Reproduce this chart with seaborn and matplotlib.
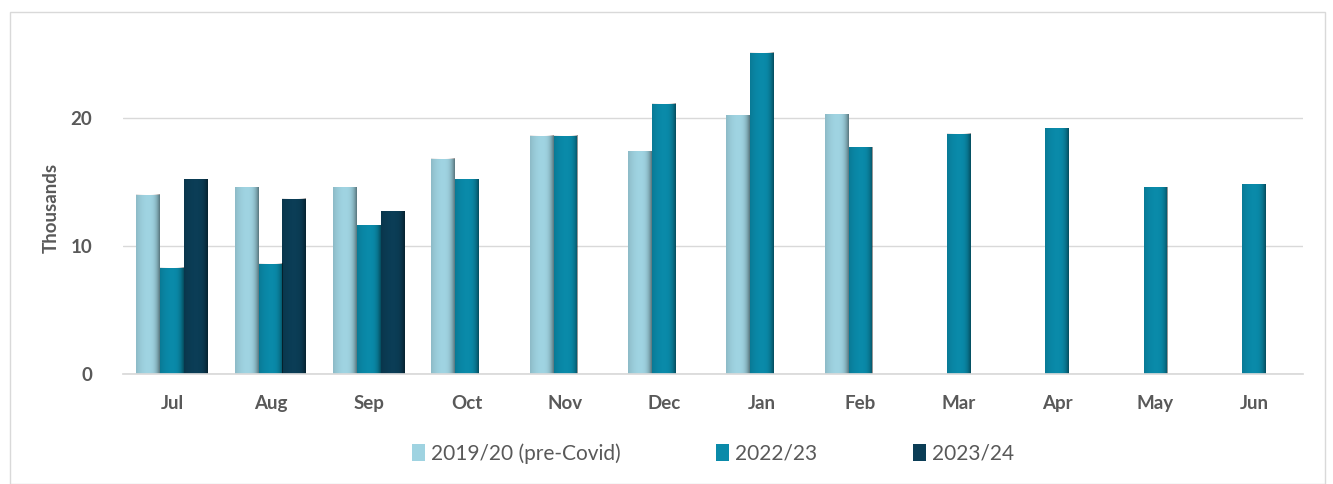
import numpy as np
import pandas as pd
import matplotlib
matplotlib.use("Agg")
import matplotlib.pyplot as plt
import seaborn as sns
from matplotlib.patches import Rectangle

months = ["Jul", "Aug", "Sep", "Oct", "Nov", "Dec", "Jan", "Feb", "Mar", "Apr", "May", "Jun"]
series_names = ["2019/20 (pre-Covid)", "2022/23", "2023/24"]
pre_covid = [14.0, 14.6, 14.6, 16.8, 18.6, 17.4, 20.2, 20.3, np.nan, np.nan, np.nan, np.nan]
y2022_23 = [8.3, 8.6, 11.6, 15.2, 18.6, 21.1, 25.1, 17.7, 18.75, 19.2, 14.6, 14.8]
y2023_24 = [15.2, 13.7, 12.7, np.nan, np.nan, np.nan, np.nan, np.nan, np.nan, np.nan, np.nan, np.nan]
yticks = [0, 10, 20]
colors = ["#9fd3e1", "#0a8aa9", "#0b3d56"]

rows = []
for name, vals in zip(series_names, [pre_covid, y2022_23, y2023_24]):
    for m, v in zip(months, vals):
        rows.append({"Month": m, "Series": name, "Value": v})
df = pd.DataFrame(rows).dropna()

sns.set_theme(style="white")
plt.rcParams["font.family"] = ["Lato", "DejaVu Sans"]

fig = plt.figure(figsize=(13.33, 4.84), dpi=100)
ax = fig.add_axes([0.0923, 0.2273, 0.8852, 0.688])

sns.barplot(data=df, x="Month", y="Value", hue="Series", order=months,
            hue_order=series_names, palette=colors, width=0.73, dodge=True,
            saturation=1, errorbar=None, ax=ax, edgecolor="none", linewidth=0)

# bevel-like horizontal shading over each bar
grad = np.linspace(-1, 1, 64)
alpha = np.where(grad < 0, 0.12 * (-grad) ** 2, 0.45 * grad ** 3)
shade = np.zeros((1, 64, 4))
shade[..., 3] = alpha
for p in list(ax.patches):
    h = p.get_height()
    if not np.isfinite(h) or h <= 0:
        continue
    x0, w = p.get_x(), p.get_width()
    ax.imshow(shade, extent=[x0, x0 + w, 0, h], aspect="auto",
              interpolation="bilinear", zorder=p.get_zorder() + 0.1)

ax.set_xlim(-0.5, len(months) - 0.5)
ax.set_ylim(0, 26)
ax.set_yticks(yticks)
ax.set_yticklabels([str(t) for t in yticks])
ax.grid(axis="y", color="#d9d9d9", linewidth=1)
ax.set_axisbelow(True)
for s in ["top", "right", "left"]:
    ax.spines[s].set_visible(False)
ax.spines["bottom"].set_color("#d9d9d9")
ax.tick_params(axis="both", length=0, labelsize=13.5, labelcolor="#595959")
ax.tick_params(axis="x", pad=15)
ax.tick_params(axis="y", pad=22)
for lab in ax.get_xticklabels() + ax.get_yticklabels():
    lab.set_fontweight("bold")
ax.set_xlabel("")
ax.set_ylabel("Thousands", fontsize=13.5, fontweight="bold", color="#595959", labelpad=8)

handles, labels = ax.get_legend_handles_labels()
ax.legend(handles, labels, loc="center", bbox_to_anchor=(0.5, -0.238), ncol=3,
          frameon=False, fontsize=15, handlelength=0.6, handleheight=0.85,
          handletextpad=0.3, columnspacing=4.6, labelcolor="#595959")

fig.patches.append(Rectangle((10 / 1333, 0), 1315 / 1333, 1 - 12 / 484,
                             transform=fig.transFigure, fill=False,
                             edgecolor="#d9d9d9", linewidth=1))

fig.savefig("out.png", dpi=100)
